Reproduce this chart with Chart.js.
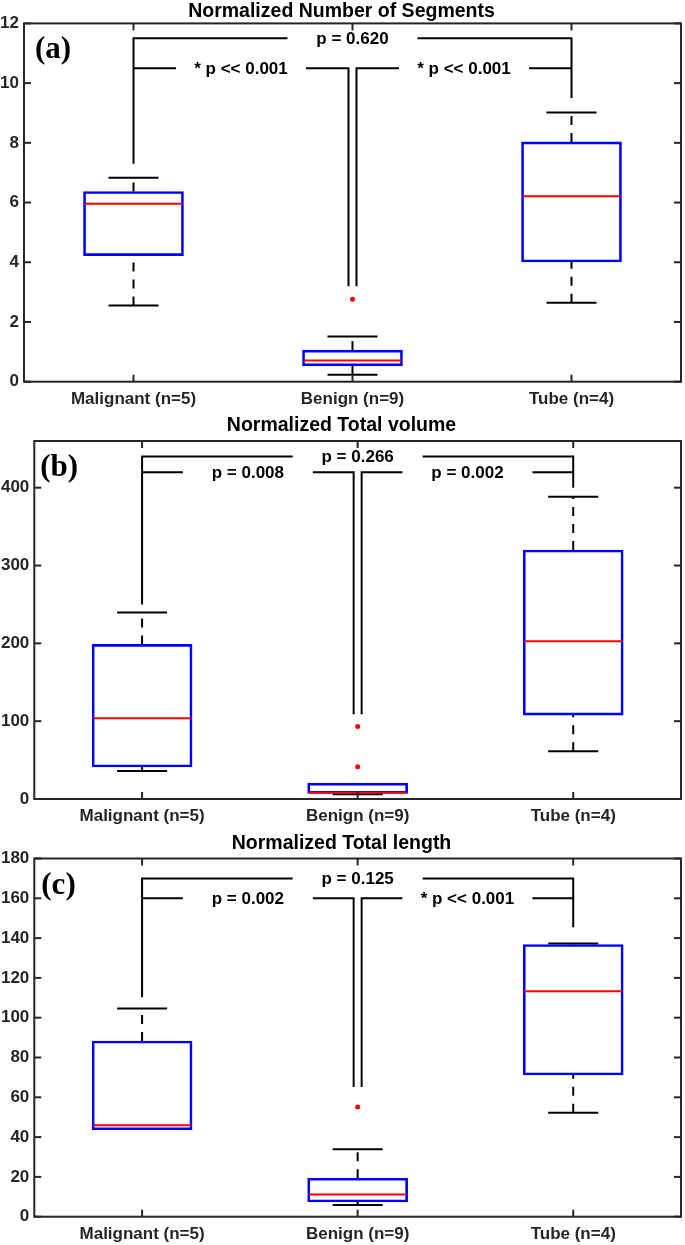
<!DOCTYPE html>
<html><head><meta charset="utf-8">
<script src="https://cdn.jsdelivr.net/npm/chart.js@4.4.1/dist/chart.umd.min.js"></script>
<style>
html,body{margin:0;padding:0;background:#fff;}
.panel{position:absolute;left:0;}
canvas{display:block;}
</style></head><body>
<div class="panel" style="top:0px"><canvas id="c1" width="685" height="412"></canvas></div>
<div class="panel" style="top:412px"><canvas id="c2" width="685" height="416"></canvas></div>
<div class="panel" style="top:828px"><canvas id="c3" width="685" height="417"></canvas></div>
<script>
// ---------- data ----------
const categories = ['Malignant (n=5)', 'Benign (n=9)', 'Tube (n=4)'];
const panelTitles = ['Normalized Number of Segments', 'Normalized Total volume', 'Normalized Total length'];
const panelLabels = ['(a)', '(b)', '(c)'];

// (a) Normalized Number of Segments
const segLo  = [2.55, 0.23, 2.64];
const segQ1  = [4.22, 0.53, 4.01];
const segMed = [5.96, 0.71, 6.21];
const segQ3  = [6.37, 1.06, 8.03];
const segHi  = [6.83, 1.51, 9.02];
const segOutliers = [[], [2.76], []];
const segTicks = [0, 2, 4, 6, 8, 10, 12];
const segRange = [0, 12];
const segBracketLevels = [11.5, 10.5];
const segBracketDrops = [7.3, 3.2, 9.5];
const segPValues = ['p = 0.620', '* p << 0.001', '* p << 0.001'];

// (b) Normalized Total volume
const volLo  = [35.9, 6.0, 61.2];
const volQ1  = [41.1, 7.3, 107.8];
const volMed = [103.6, 8.1, 202.8];
const volQ3  = [198.6, 20.5, 320.0];
const volHi  = [239.7, 20.5, 388.5];
const volOutliers = [[], [93.0, 41.5], []];
const volTicks = [0, 100, 200, 300, 400];
const volRange = [0, 460];
const volBracketLevels = [440, 420];
const volBracketDrops = [250, 109, 400];
const volPValues = ['p = 0.266', 'p = 0.008', 'p = 0.002'];

// (c) Normalized Total length
const lenLo  = [43.7, 5.9, 52.2];
const lenQ1  = [43.7, 7.4, 71.2];
const lenMed = [46.0, 11.1, 113.3];
const lenQ3  = [88.3, 19.3, 136.8];
const lenHi  = [104.6, 33.9, 137.3];
const lenOutliers = [[], [55.1], []];
const lenTicks = [0, 20, 40, 60, 80, 100, 120, 140, 160, 180];
const lenRange = [0, 180];
const lenBracketLevels = [170, 160];
const lenBracketDrops = [110.3, 65.2, 145.5];
const lenPValues = ['p = 0.125', 'p = 0.002', '* p << 0.001'];

// ---------- layout/style ----------
const FONT = '"Liberation Sans", Arial, Helvetica, sans-serif';
const AXIS_COLOR = '#262626';
const layouts = [
  {left: 24,   xH: 30.3, tPad: {top: 0,   bottom: 0}, labelDx: 11},
  {left: 34.3, xH: 29,   tPad: {top: 2.3, bottom: 3.3}, labelDx: 6},
  {left: 34.3, xH: 28.3, tPad: {top: 4.3, bottom: 2.8}, labelDx: 7}
];

const panels = [
  {lo: segLo, q1: segQ1, med: segMed, q3: segQ3, hi: segHi, out: segOutliers, ticks: segTicks, range: segRange,
   levels: segBracketLevels, drops: segBracketDrops, pv: segPValues},
  {lo: volLo, q1: volQ1, med: volMed, q3: volQ3, hi: volHi, out: volOutliers, ticks: volTicks, range: volRange,
   levels: volBracketLevels, drops: volBracketDrops, pv: volPValues},
  {lo: lenLo, q1: lenQ1, med: lenMed, q3: lenQ3, hi: lenHi, out: lenOutliers, ticks: lenTicks, range: lenRange,
   levels: lenBracketLevels, drops: lenBracketDrops, pv: lenPValues}
];

function seg(ctx, pts) {
  ctx.beginPath();
  ctx.moveTo(pts[0][0], pts[0][1]);
  for (let i = 1; i < pts.length; i++) ctx.lineTo(pts[i][0], pts[i][1]);
  ctx.stroke();
}

function makePlugin(p, idx) {
  const L = layouts[idx];
  return {
    id: 'boxExtras' + idx,
    beforeDatasetsDraw(chart) {
      const ctx = chart.ctx, y = chart.scales.y;
      const meta = chart.getDatasetMeta(0);
      ctx.save();
      ctx.strokeStyle = '#000';
      ctx.lineWidth = 2;
      ctx.lineCap = 'butt';
      meta.data.forEach((bar, i) => {
        const x = bar.x;
        const capHalf = bar.width / 4;
        ctx.setLineDash([9, 8]);
        if (p.lo[i] < p.q1[i]) seg(ctx, [[x, y.getPixelForValue(p.lo[i])], [x, y.getPixelForValue(p.q1[i])]]);
        if (p.hi[i] > p.q3[i]) seg(ctx, [[x, y.getPixelForValue(p.q3[i])], [x, y.getPixelForValue(p.hi[i])]]);
        ctx.setLineDash([]);
        const yl = y.getPixelForValue(p.lo[i]), yh = y.getPixelForValue(p.hi[i]);
        if (p.lo[i] < p.q1[i]) seg(ctx, [[x - capHalf, yl], [x + capHalf, yl]]);
        if (p.hi[i] > p.q3[i]) seg(ctx, [[x - capHalf, yh], [x + capHalf, yh]]);
      });
      ctx.restore();
    },
    afterDatasetsDraw(chart) {
      const ctx = chart.ctx, y = chart.scales.y;
      const meta = chart.getDatasetMeta(0);
      const xs = meta.data.map(b => b.x);
      ctx.save();
      // medians
      ctx.strokeStyle = '#ff0000';
      ctx.lineWidth = 2;
      meta.data.forEach((bar, i) => {
        const ym = y.getPixelForValue(p.med[i]);
        seg(ctx, [[bar.x - bar.width / 2 + 1, ym], [bar.x + bar.width / 2 - 1, ym]]);
      });
      // significance brackets
      ctx.strokeStyle = '#000';
      ctx.lineWidth = 2;
      ctx.lineJoin = 'miter';
      const g = 65, off = 4;
      const yTop = y.getPixelForValue(p.levels[0]);
      const yMid = y.getPixelForValue(p.levels[1]);
      const d0 = y.getPixelForValue(p.drops[0]);
      const d1 = y.getPixelForValue(p.drops[1]);
      const d2 = y.getPixelForValue(p.drops[2]);
      const xbL = xs[1] - off, xbR = xs[1] + off;
      const mT = (xs[0] + xs[2]) / 2, mL = (xs[0] + xbL) / 2, mR = (xbR + xs[2]) / 2;
      seg(ctx, [[xs[0], d0], [xs[0], yTop], [mT - g, yTop]]);
      seg(ctx, [[mT + g, yTop], [xs[2], yTop], [xs[2], d2]]);
      seg(ctx, [[xs[0], yMid], [mL - g, yMid]]);
      seg(ctx, [[mL + g, yMid], [xbL, yMid], [xbL, d1]]);
      seg(ctx, [[xbR, d1], [xbR, yMid], [mR - g, yMid]]);
      seg(ctx, [[mR + g, yMid], [xs[2], yMid]]);
      ctx.fillStyle = '#000';
      ctx.font = 'bold 17px ' + FONT;
      ctx.textAlign = 'center';
      ctx.textBaseline = 'middle';
      ctx.fillText(p.pv[0], mT, yTop + 1);
      ctx.fillText(p.pv[1], mL, yMid + 1);
      ctx.fillText(p.pv[2], mR, yMid + 1);
      // panel label
      const a = chart.chartArea;
      ctx.font = 'bold 31px "Liberation Serif", "Times New Roman", serif';
      ctx.textAlign = 'left';
      ctx.fillText(panelLabels[idx], a.left + L.labelDx, a.top + 27);
      ctx.restore();
    },
    afterDraw(chart) {
      const ctx = chart.ctx, a = chart.chartArea;
      const xS = chart.scales.x, yS = chart.scales.y;
      ctx.save();
      ctx.strokeStyle = AXIS_COLOR;
      ctx.lineWidth = 2;
      ctx.strokeRect(a.left, a.top, a.right - a.left, a.bottom - a.top);
      const tl = 7;
      yS.ticks.forEach((t, i) => {
        const py = yS.getPixelForTick(i);
        seg(ctx, [[a.left, py], [a.left + tl, py]]);
        seg(ctx, [[a.right, py], [a.right - tl, py]]);
      });
      xS.ticks.forEach((t, i) => {
        const px = xS.getPixelForTick(i);
        seg(ctx, [[px, a.top], [px, a.top + tl]]);
        seg(ctx, [[px, a.bottom], [px, a.bottom - tl]]);
      });
      ctx.restore();
    }
  };
}

function makeChart(canvasId, idx) {
  const p = panels[idx];
  const L = layouts[idx];
  const outlierPts = [];
  p.out.forEach((vals, i) => vals.forEach(v => outlierPts.push({x: categories[i], y: v})));
  return new Chart(document.getElementById(canvasId), {
    type: 'bar',
    data: {
      labels: categories,
      datasets: [
        {
          type: 'bar',
          data: p.q1.map((v, i) => [v, p.q3[i]]),
          backgroundColor: 'rgba(0,0,0,0)',
          borderColor: '#0000ff',
          borderWidth: 2,
          borderSkipped: false,
          barThickness: 100
        },
        {
          type: 'line',
          data: outlierPts,
          showLine: false,
          pointRadius: 2.5,
          pointBackgroundColor: '#ff0000',
          pointBorderWidth: 0,
          borderColor: '#ff0000'
        }
      ]
    },
    options: {
      responsive: false,
      devicePixelRatio: 1,
      animation: false,
      events: [],
      layout: {padding: {left: 0, right: 2, top: 0, bottom: 0}},
      plugins: {
        legend: {display: false},
        tooltip: {enabled: false},
        title: {
          display: true,
          text: panelTitles[idx],
          color: '#000',
          font: {family: FONT, size: 19.5, weight: 'bold'},
          padding: L.tPad
        }
      },
      scales: {
        x: {
          type: 'category',
          offset: true,
          grid: {display: false, drawTicks: false},
          border: {display: false},
          ticks: {color: AXIS_COLOR, font: {family: FONT, size: 17, weight: 'bold'}, padding: 7, maxRotation: 0},
          afterFit: (s) => { s.height = L.xH; }
        },
        y: {
          type: 'linear',
          min: p.range[0],
          max: p.range[1],
          grid: {display: false, drawTicks: false},
          border: {display: false},
          ticks: {color: AXIS_COLOR, font: {family: FONT, size: 17, weight: 'bold'}, padding: 5},
          afterBuildTicks: (axis) => { axis.ticks = p.ticks.map(v => ({value: v})); },
          afterFit: (s) => { s.width = L.left; }
        }
      }
    },
    plugins: [makePlugin(p, idx)]
  });
}

makeChart('c1', 0);
makeChart('c2', 1);
makeChart('c3', 2);
</script>
</body></html>
